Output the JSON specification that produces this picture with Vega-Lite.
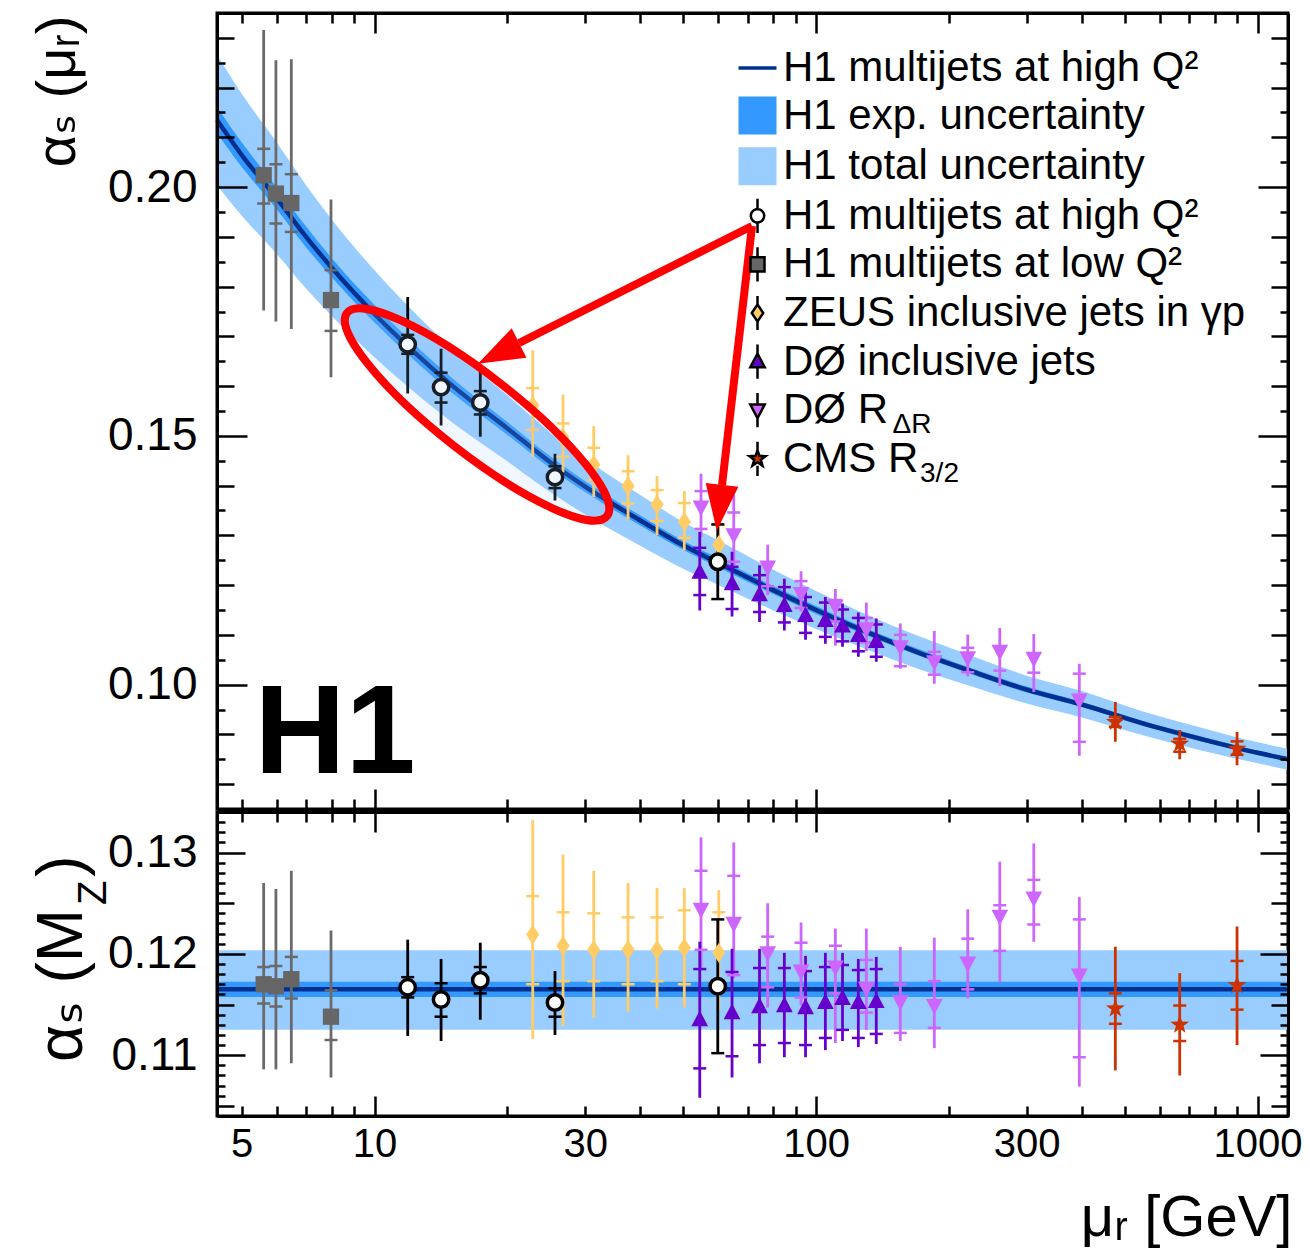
{
"$schema": "https://vega.github.io/schema/vega-lite/v6.json",
"background": "white",
"padding": {"left": 27, "top": 10, "right": 10, "bottom": 8},
"config": {"view": {"stroke": "black", "strokeWidth": 3}, "font": "Liberation Sans"},
"datasets": {
"curve": [
{"x":4.398,"c":0.2135,"elo":0.2109,"ehi":0.2161,"tlo":0.2004,"thi":0.2266},
{"x":5,"c":0.2065,"elo":0.2041,"ehi":0.2090,"tlo":0.1943,"thi":0.2188},
{"x":6,"c":0.1978,"elo":0.1956,"ehi":0.2000,"tlo":0.1866,"thi":0.2090},
{"x":7,"c":0.1900,"elo":0.1879,"ehi":0.1921,"tlo":0.1796,"thi":0.2004},
{"x":8,"c":0.1838,"elo":0.1819,"ehi":0.1857,"tlo":0.1741,"thi":0.1935},
{"x":10,"c":0.1745,"elo":0.1728,"ehi":0.1763,"tlo":0.1658,"thi":0.1833},
{"x":12,"c":0.1677,"elo":0.1661,"ehi":0.1693,"tlo":0.1596,"thi":0.1758},
{"x":15,"c":0.1601,"elo":0.1586,"ehi":0.1616,"tlo":0.1527,"thi":0.1675},
{"x":20,"c":0.1515,"elo":0.1502,"ehi":0.1528,"tlo":0.1449,"thi":0.1581},
{"x":25,"c":0.1447,"elo":0.1435,"ehi":0.1459,"tlo":0.1387,"thi":0.1507},
{"x":30,"c":0.1398,"elo":0.1387,"ehi":0.1409,"tlo":0.1342,"thi":0.1454},
{"x":40,"c":0.1330,"elo":0.1320,"ehi":0.1340,"tlo":0.1279,"thi":0.1381},
{"x":50,"c":0.1280,"elo":0.1271,"ehi":0.1289,"tlo":0.1233,"thi":0.1327},
{"x":60,"c":0.1245,"elo":0.1236,"ehi":0.1254,"tlo":0.1201,"thi":0.1290},
{"x":80,"c":0.1190,"elo":0.1182,"ehi":0.1198,"tlo":0.1149,"thi":0.1231},
{"x":100,"c":0.1150,"elo":0.1142,"ehi":0.1158,"tlo":0.1112,"thi":0.1188},
{"x":130,"c":0.1106,"elo":0.1099,"ehi":0.1113,"tlo":0.1071,"thi":0.1141},
{"x":170,"c":0.1065,"elo":0.1059,"ehi":0.1072,"tlo":0.1032,"thi":0.1098},
{"x":220,"c":0.1030,"elo":0.1024,"ehi":0.1036,"tlo":0.0999,"thi":0.1061},
{"x":300,"c":0.0990,"elo":0.0984,"ehi":0.0996,"tlo":0.0962,"thi":0.1018},
{"x":400,"c":0.0960,"elo":0.0955,"ehi":0.0965,"tlo":0.0934,"thi":0.0987},
{"x":550,"c":0.0922,"elo":0.0917,"ehi":0.0927,"tlo":0.0898,"thi":0.0946},
{"x":750,"c":0.0890,"elo":0.0885,"ehi":0.0895,"tlo":0.0867,"thi":0.0913},
{"x":1000,"c":0.0863,"elo":0.0859,"ehi":0.0867,"tlo":0.0842,"thi":0.0884},
{"x":1172,"c":0.0850,"elo":0.0846,"ehi":0.0854,"tlo":0.0829,"thi":0.0871}
],
"flat": [
{"x":4.398,"c":0.1165,"elo":0.11575,"ehi":0.11725,"tlo":0.1125,"thi":0.12035},
{"x":1172,"c":0.1165,"elo":0.11575,"ehi":0.11725,"tlo":0.1125,"thi":0.12035}
],
"pts": [
{"panel":"t","series":"hl","x":5.61,"y":0.2024,"lo":0.1752,"hi":0.2316,"elo":0.1967,"ehi":0.2077},
{"panel":"t","series":"hl","x":5.98,"y":0.1987,"lo":0.1730,"hi":0.2255,"elo":0.1927,"ehi":0.2046},
{"panel":"t","series":"hl","x":6.48,"y":0.1968,"lo":0.1715,"hi":0.2257,"elo":0.1910,"ehi":0.2026},
{"panel":"t","series":"hl","x":7.97,"y":0.1773,"lo":0.1618,"hi":0.1975,"elo":0.1711,"ehi":0.1833},
{"panel":"t","series":"zeus","x":22.82,"y":0.1561,"lo":0.1458,"hi":0.1672,"elo":0.1512,"ehi":0.1596},
{"panel":"t","series":"zeus","x":26.73,"y":0.1496,"lo":0.1427,"hi":0.1583,"elo":0.1458,"ehi":0.1525},
{"panel":"t","series":"zeus","x":31.37,"y":0.1442,"lo":0.1377,"hi":0.1520,"elo":0.1411,"ehi":0.1476},
{"panel":"t","series":"zeus","x":37.52,"y":0.1399,"lo":0.1332,"hi":0.1461,"elo":0.1364,"ehi":0.1429},
{"panel":"t","series":"zeus","x":43.64,"y":0.1362,"lo":0.1301,"hi":0.1419,"elo":0.1329,"ehi":0.1391},
{"panel":"t","series":"zeus","x":50.31,"y":0.1327,"lo":0.1270,"hi":0.1389,"elo":0.1295,"ehi":0.1365},
{"panel":"t","series":"zeus","x":60.22,"y":0.1281,"lo":0.1225,"hi":0.1343,"elo":0.1251,"ehi":0.1321},
{"panel":"t","series":"d0r","x":54.89,"y":0.1357,"lo":0.1297,"hi":0.1424,"elo":0.1313,"ehi":0.1389},
{"panel":"t","series":"d0r","x":65.11,"y":0.1301,"lo":0.1240,"hi":0.1381,"elo":0.1247,"ehi":0.1346},
{"panel":"t","series":"d0r","x":77.71,"y":0.1236,"lo":0.1180,"hi":0.1281,"elo":0.1198,"ehi":0.1245},
{"panel":"t","series":"d0r","x":92.48,"y":0.1183,"lo":0.1147,"hi":0.1228,"elo":0.1154,"ehi":0.1208},
{"panel":"t","series":"d0r","x":110.6,"y":0.1158,"lo":0.1078,"hi":0.1192,"elo":0.1127,"ehi":0.1170},
{"panel":"t","series":"d0r","x":130.0,"y":0.1112,"lo":0.1067,"hi":0.1165,"elo":0.1085,"ehi":0.1134},
{"panel":"t","series":"d0r","x":155.2,"y":0.1076,"lo":0.1032,"hi":0.1123,"elo":0.1037,"ehi":0.1100},
{"panel":"t","series":"d0r","x":185.3,"y":0.1046,"lo":0.1002,"hi":0.1108,"elo":0.1020,"ehi":0.1066},
{"panel":"t","series":"d0r","x":220.6,"y":0.1054,"lo":0.1017,"hi":0.1101,"elo":0.1025,"ehi":0.1074},
{"panel":"t","series":"d0r","x":260.7,"y":0.1067,"lo":0.0997,"hi":0.1114,"elo":0.1028,"ehi":0.1076},
{"panel":"t","series":"d0r","x":311.3,"y":0.1053,"lo":0.0985,"hi":0.1102,"elo":0.1024,"ehi":0.1062},
{"panel":"t","series":"d0r","x":394.7,"y":0.0969,"lo":0.0857,"hi":0.1042,"elo":0.0885,"ehi":0.1022},
{"panel":"t","series":"d0i","x":54.53,"y":0.1226,"lo":0.1149,"hi":0.1307,"elo":0.1180,"ehi":0.1275},
{"panel":"t","series":"d0i","x":64.53,"y":0.1203,"lo":0.1137,"hi":0.1267,"elo":0.1152,"ehi":0.1237},
{"panel":"t","series":"d0i","x":74.47,"y":0.1181,"lo":0.1126,"hi":0.1240,"elo":0.1146,"ehi":0.1220},
{"panel":"t","series":"d0i","x":84.77,"y":0.1159,"lo":0.1109,"hi":0.1213,"elo":0.1125,"ehi":0.1196},
{"panel":"t","series":"d0i","x":94.67,"y":0.1139,"lo":0.1090,"hi":0.1193,"elo":0.1104,"ehi":0.1176},
{"panel":"t","series":"d0i","x":104.98,"y":0.1129,"lo":0.1082,"hi":0.1176,"elo":0.1096,"ehi":0.1165},
{"panel":"t","series":"d0i","x":114.8,"y":0.1118,"lo":0.1076,"hi":0.1163,"elo":0.1087,"ehi":0.1151},
{"panel":"t","series":"d0i","x":124.68,"y":0.1099,"lo":0.1056,"hi":0.1145,"elo":0.1067,"ehi":0.1134},
{"panel":"t","series":"d0i","x":136.9,"y":0.1087,"lo":0.1046,"hi":0.1133,"elo":0.1056,"ehi":0.1121},
{"panel":"t","series":"cms","x":476.3,"y":0.0925,"lo":0.0885,"hi":0.0965,"elo":0.0915,"ehi":0.0935},
{"panel":"t","series":"cms","x":666.3,"y":0.0881,"lo":0.0850,"hi":0.0909,"elo":0.0865,"ehi":0.0891},
{"panel":"t","series":"cms","x":898.5,"y":0.0871,"lo":0.0838,"hi":0.0905,"elo":0.0859,"ehi":0.0886},
{"panel":"t","series":"hh","x":11.89,"y":0.1684,"lo":0.1585,"hi":0.1779,"elo":0.1665,"ehi":0.1703},
{"panel":"t","series":"hh","x":14.15,"y":0.1598,"lo":0.1521,"hi":0.1675,"elo":0.1567,"ehi":0.1627},
{"panel":"t","series":"hh","x":17.36,"y":0.1567,"lo":0.1498,"hi":0.1632,"elo":0.1543,"ehi":0.1590},
{"panel":"t","series":"hh","x":25.63,"y":0.1417,"lo":0.1370,"hi":0.1464,"elo":0.1395,"ehi":0.1439},
{"panel":"t","series":"hh","x":59.9,"y":0.1247,"lo":0.1172,"hi":0.1322,"elo":0.1172,"ehi":0.1322},
{"panel":"b","series":"hl","x":5.61,"y":0.1170,"lo":0.1086,"hi":0.1270,"elo":0.1151,"ehi":0.1187},
{"panel":"b","series":"hl","x":5.98,"y":0.1168,"lo":0.1086,"hi":0.1264,"elo":0.1148,"ehi":0.1188},
{"panel":"b","series":"hl","x":6.48,"y":0.1175,"lo":0.1092,"hi":0.1282,"elo":0.1156,"ehi":0.1197},
{"panel":"b","series":"hl","x":7.97,"y":0.1138,"lo":0.1078,"hi":0.1223,"elo":0.1115,"ehi":0.1164},
{"panel":"b","series":"zeus","x":22.82,"y":0.1219,"lo":0.1116,"hi":0.1332,"elo":0.1170,"ehi":0.1257},
{"panel":"b","series":"zeus","x":26.73,"y":0.1208,"lo":0.1129,"hi":0.1298,"elo":0.1173,"ehi":0.1241},
{"panel":"b","series":"zeus","x":31.37,"y":0.1204,"lo":0.1137,"hi":0.1282,"elo":0.1173,"ehi":0.1240},
{"panel":"b","series":"zeus","x":37.52,"y":0.1204,"lo":0.1143,"hi":0.1270,"elo":0.1170,"ehi":0.1236},
{"panel":"b","series":"zeus","x":43.64,"y":0.1204,"lo":0.1146,"hi":0.1265,"elo":0.1173,"ehi":0.1236},
{"panel":"b","series":"zeus","x":50.31,"y":0.1206,"lo":0.1147,"hi":0.1265,"elo":0.1170,"ehi":0.1243},
{"panel":"b","series":"zeus","x":60.22,"y":0.1201,"lo":0.1145,"hi":0.1263,"elo":0.1170,"ehi":0.1241},
{"panel":"b","series":"d0r","x":54.89,"y":0.1244,"lo":0.1186,"hi":0.1315,"elo":0.1204,"ehi":0.1282},
{"panel":"b","series":"d0r","x":65.11,"y":0.1230,"lo":0.1176,"hi":0.1310,"elo":0.1179,"ehi":0.1277},
{"panel":"b","series":"d0r","x":77.71,"y":0.1201,"lo":0.1147,"hi":0.1250,"elo":0.1167,"ehi":0.1217},
{"panel":"b","series":"d0r","x":92.48,"y":0.1183,"lo":0.1149,"hi":0.1231,"elo":0.1157,"ehi":0.1211},
{"panel":"b","series":"d0r","x":110.6,"y":0.1187,"lo":0.1112,"hi":0.1225,"elo":0.1161,"ehi":0.1208},
{"panel":"b","series":"d0r","x":130.0,"y":0.1166,"lo":0.1125,"hi":0.1225,"elo":0.1142,"ehi":0.1194},
{"panel":"b","series":"d0r","x":155.2,"y":0.1153,"lo":0.1114,"hi":0.1207,"elo":0.1122,"ehi":0.1170},
{"panel":"b","series":"d0r","x":185.3,"y":0.1149,"lo":0.1107,"hi":0.1216,"elo":0.1127,"ehi":0.1173},
{"panel":"b","series":"d0r","x":220.6,"y":0.1191,"lo":0.1156,"hi":0.1244,"elo":0.1165,"ehi":0.1215},
{"panel":"b","series":"d0r","x":260.7,"y":0.1237,"lo":0.1172,"hi":0.1291,"elo":0.1203,"ehi":0.1248},
{"panel":"b","series":"d0r","x":311.3,"y":0.1255,"lo":0.1212,"hi":0.1309,"elo":0.1229,"ehi":0.1273},
{"panel":"b","series":"d0r","x":394.7,"y":0.1179,"lo":0.1069,"hi":0.1256,"elo":0.1098,"ehi":0.1234},
{"panel":"b","series":"d0i","x":54.53,"y":0.1135,"lo":0.1058,"hi":0.1212,"elo":0.1087,"ehi":0.1185},
{"panel":"b","series":"d0i","x":64.53,"y":0.1142,"lo":0.1078,"hi":0.1205,"elo":0.1099,"ehi":0.1182},
{"panel":"b","series":"d0i","x":74.47,"y":0.1148,"lo":0.1092,"hi":0.1205,"elo":0.1110,"ehi":0.1186},
{"panel":"b","series":"d0i","x":84.77,"y":0.1149,"lo":0.1098,"hi":0.1201,"elo":0.1112,"ehi":0.1186},
{"panel":"b","series":"d0i","x":94.67,"y":0.1147,"lo":0.1098,"hi":0.1198,"elo":0.1110,"ehi":0.1183},
{"panel":"b","series":"d0i","x":104.98,"y":0.1152,"lo":0.1105,"hi":0.1201,"elo":0.1117,"ehi":0.1187},
{"panel":"b","series":"d0i","x":114.8,"y":0.1156,"lo":0.1114,"hi":0.1201,"elo":0.1125,"ehi":0.1189},
{"panel":"b","series":"d0i","x":124.68,"y":0.1152,"lo":0.1108,"hi":0.1195,"elo":0.1117,"ehi":0.1184},
{"panel":"b","series":"d0i","x":136.9,"y":0.1153,"lo":0.1111,"hi":0.1197,"elo":0.1121,"ehi":0.1185},
{"panel":"b","series":"cms","x":476.3,"y":0.1146,"lo":0.1085,"hi":0.1207,"elo":0.1131,"ehi":0.1161},
{"panel":"b","series":"cms","x":666.3,"y":0.1130,"lo":0.1080,"hi":0.1181,"elo":0.1114,"ehi":0.1149},
{"panel":"b","series":"cms","x":898.5,"y":0.1169,"lo":0.1110,"hi":0.1227,"elo":0.1145,"ehi":0.1193},
{"panel":"b","series":"hh","x":11.89,"y":0.1167,"lo":0.1119,"hi":0.1214,"elo":0.1157,"ehi":0.1177},
{"panel":"b","series":"hh","x":14.15,"y":0.1155,"lo":0.1114,"hi":0.1195,"elo":0.1138,"ehi":0.1171},
{"panel":"b","series":"hh","x":17.36,"y":0.1174,"lo":0.1135,"hi":0.1211,"elo":0.1161,"ehi":0.1187},
{"panel":"b","series":"hh","x":25.63,"y":0.1152,"lo":0.1120,"hi":0.1183,"elo":0.1138,"ehi":0.1166},
{"panel":"b","series":"hh","x":59.9,"y":0.1168,"lo":0.1102,"hi":0.1234,"elo":0.1102,"ehi":0.1234}
]
},
"spacing": -14,
"resolve": {"scale": {"x": "independent", "y": "independent", "fill": "independent", "shape": "independent", "color": "independent", "strokeDash": "independent"}, "legend": {"fill": "independent", "shape": "independent", "color": "independent", "strokeDash": "independent"}},
"vconcat": [
{
"width": 1071, "height": 796,
"resolve": {"axis": {"x": "independent", "y": "independent"}},
"layer": [
{"data": {"name": "curve"}, "mark": {"type": "area", "color": "#99ccff", "opacity": 1, "interpolate": "monotone"},
 "encoding": {"x": {"field": "x", "type": "quantitative", "scale": {"type": "log", "domain": [4.398, 1172], "nice": false}, "axis": null},
  "y": {"field": "tlo", "type": "quantitative", "scale": {"domain": [0.075, 0.235], "nice": false, "zero": false}, "axis": null}, "y2": {"field": "thi"}}},
{"data": {"name": "curve"}, "mark": {"type": "area", "color": "#3399ff", "opacity": 1, "interpolate": "monotone"},
 "encoding": {"x": {"field": "x", "type": "quantitative", "scale": {"type": "log", "domain": [4.398, 1172], "nice": false}, "axis": null},
  "y": {"field": "elo", "type": "quantitative", "scale": {"domain": [0.075, 0.235], "nice": false, "zero": false}, "axis": null}, "y2": {"field": "ehi"}}},
{"data": {"name": "curve"}, "mark": {"type": "line", "color": "#00308f", "strokeWidth": 4.5, "interpolate": "monotone"},
 "encoding": {"x": {"field": "x", "type": "quantitative", "scale": {"type": "log", "domain": [4.398, 1172], "nice": false}, "axis": null},
  "y": {"field": "c", "type": "quantitative", "scale": {"domain": [0.075, 0.235], "nice": false, "zero": false}, "axis": null}}},
{"data": {"name": "pts"}, "transform": [{"filter": "datum.panel === 't'"}], "mark": {"type": "rule", "strokeWidth": 2.8},
 "encoding": {"x": {"field": "x", "type": "quantitative", "scale": {"type": "log", "domain": [4.398, 1172], "nice": false}, "axis": null},
  "y": {"field": "lo", "type": "quantitative", "scale": {"domain": [0.075, 0.235], "nice": false, "zero": false}, "axis": null}, "y2": {"field": "hi"},
  "color": {"field": "series", "type": "nominal", "scale": {"domain": ["line","exp","tot","hh","hl","zeus","d0i","d0r","cms"], "range": ["#00308f","#3399ff","#99ccff","black","#6a6a6a","#ffcc66","#6600cc","#cc66ff","#cc3300"]}, "legend": null},
  "strokeDash": {"field": "series", "type": "nominal", "scale": {"range": [[1,0],[1,0],[1,0],[1,0],[1,0],[1,0],[1,0],[1,0],[1,0]]},
   "legend": {"orient": "none", "legendX": 519.5, "legendY": 34, "title": null, "padding": 0, "symbolSize": 1444, "symbolStrokeWidth": 2.5,
    "symbolType": "M0,-0.9V-0.36M0,0.36V0.9", "symbolStrokeColor": "black", "symbolFillColor": "transparent",
    "labelFontSize": 42, "labelFont": "Liberation Sans", "labelLimit": 1000, "labelOffset": 4.5, "rowPadding": 2.6,
    "values": ["line","exp","tot","hh","hl","zeus","d0i","d0r","cms"],
    "labelExpr": "datum.value==='line'?'H1 multijets at high Q²':datum.value==='exp'?'H1 exp. uncertainty':datum.value==='tot'?'H1 total uncertainty':datum.value==='hh'?'H1 multijets at high Q²':datum.value==='hl'?'H1 multijets at low Q²':datum.value==='zeus'?'ZEUS inclusive jets in γp':datum.value==='d0i'?'DØ inclusive jets':datum.value==='d0r'?'DØ R':'CMS R'",
    "encode": {"symbols": {"update": {
      "shape": {"signal": "datum.value==='line'?'M-1,-0.09H1V0.09H-1Z':(datum.value==='exp'||datum.value==='tot')?'M-1,-1H1V1H-1Z':datum.value==='hh'?'M-0.35,0C-0.35,-0.193 -0.193,-0.35 0,-0.35C0.193,-0.35 0.35,-0.193 0.35,0C0.35,0.193 0.193,0.35 0,0.35C-0.193,0.35 -0.35,0.193 -0.35,0ZM0,-0.9V-0.35M0,0.35V0.9':datum.value==='hl'?'M-0.37,-0.37H0.37V0.37H-0.37ZM0,-0.9V-0.37M0,0.37V0.9':datum.value==='zeus'?'M0,-0.45L0.3,0L0,0.45L-0.3,0ZM0,-0.9V-0.45M0,0.45V0.9':datum.value==='d0i'?'M0,-0.42L0.38,0.3L-0.38,0.3ZM0,-0.9V-0.42M0,0.3V0.9':datum.value==='d0r'?'M0,0.42L0.38,-0.3L-0.38,-0.3ZM0,-0.9V-0.3M0,0.42V0.9':'M0,-0.45L0.106,-0.146L0.428,-0.139L0.171,0.056L0.265,0.364L0,0.18L-0.265,0.364L-0.171,0.056L-0.428,-0.139L-0.106,-0.146ZM0,-0.9V-0.45M0,0.364V0.9'"},
      "fill": {"signal": "datum.value==='line'?'#00308f':datum.value==='exp'?'#3399ff':datum.value==='tot'?'#99ccff':datum.value==='hh'?'white':datum.value==='hl'?'#666666':datum.value==='zeus'?'#ffcc66':datum.value==='d0i'?'#6600cc':datum.value==='d0r'?'#cc66ff':'#cc3300'"},
      "stroke": {"signal": "indexof(['hh','hl','zeus','d0i','d0r','cms'], datum.value) >= 0 ? 'black' : 'transparent'"},
      "strokeWidth": {"value": 2.5}, "opacity": {"value": 1}, "fillOpacity": {"value": 1}}}}}}}},
{"data": {"name": "pts"}, "transform": [{"filter": "datum.panel === 't'"}], "mark": {"type": "tick", "orient": "horizontal", "size": 13, "thickness": 2.5, "opacity": 1},
 "encoding": {"x": {"field": "x", "type": "quantitative", "scale": {"type": "log", "domain": [4.398, 1172], "nice": false}, "axis": null},
  "y": {"field": "elo", "type": "quantitative", "scale": {"domain": [0.075, 0.235], "nice": false, "zero": false}, "axis": null},
  "color": {"field": "series", "type": "nominal", "scale": {"domain": ["line","exp","tot","hh","hl","zeus","d0i","d0r","cms"], "range": ["#00308f","#3399ff","#99ccff","black","#6a6a6a","#ffcc66","#6600cc","#cc66ff","#cc3300"]}, "legend": null}}},
{"data": {"name": "pts"}, "transform": [{"filter": "datum.panel === 't'"}], "mark": {"type": "tick", "orient": "horizontal", "size": 13, "thickness": 2.5, "opacity": 1},
 "encoding": {"x": {"field": "x", "type": "quantitative", "scale": {"type": "log", "domain": [4.398, 1172], "nice": false}, "axis": null},
  "y": {"field": "ehi", "type": "quantitative", "scale": {"domain": [0.075, 0.235], "nice": false, "zero": false}, "axis": null},
  "color": {"field": "series", "type": "nominal", "scale": {"domain": ["line","exp","tot","hh","hl","zeus","d0i","d0r","cms"], "range": ["#00308f","#3399ff","#99ccff","black","#6a6a6a","#ffcc66","#6600cc","#cc66ff","#cc3300"]}, "legend": null}}},
{"data": {"name": "pts"}, "transform": [{"filter": "datum.panel === 't'"}], "mark": {"type": "point", "filled": true, "size": 1936, "opacity": 1},
 "encoding": {"x": {"field": "x", "type": "quantitative", "scale": {"type": "log", "domain": [4.398, 1172], "nice": false}, "axis": null},
  "y": {"field": "y", "type": "quantitative", "scale": {"domain": [0.075, 0.235], "nice": false, "zero": false}, "axis": null},
  "fill": {"field": "series", "type": "nominal", "scale": {"domain": ["line","exp","tot","hh","hl","zeus","d0i","d0r","cms"], "range": ["#00308f","#3399ff","#99ccff","white","#666666","#ffcc66","#6600cc","#cc66ff","#cc3300"]}, "legend": null},
  "shape": {"field": "series", "type": "nominal", "scale": {"domain": ["line","exp","tot","hh","hl","zeus","d0i","d0r","cms"],
   "range": ["M-1,-0.09H1V0.09H-1Z", "M-1,-1H1V1H-1Z", "M-1,-1H1V1H-1Z",
    "M-0.35,0C-0.35,-0.193 -0.193,-0.35 0,-0.35C0.193,-0.35 0.35,-0.193 0.35,0C0.35,0.193 0.193,0.35 0,0.35C-0.193,0.35 -0.35,0.193 -0.35,0Z",
    "M-0.37,-0.37H0.37V0.37H-0.37Z", "M0,-0.45L0.3,0L0,0.45L-0.3,0Z", "M0,-0.42L0.38,0.3L-0.38,0.3Z", "M0,0.42L0.38,-0.3L-0.38,-0.3Z",
    "M0,-0.45L0.106,-0.146L0.428,-0.139L0.171,0.056L0.265,0.364L0,0.18L-0.265,0.364L-0.171,0.056L-0.428,-0.139L-0.106,-0.146Z"]}, "legend": null}}},
{"data": {"name": "pts"}, "transform": [{"filter": "datum.panel === 't' && datum.series === 'hh'"}], "mark": {"type": "point", "filled": false, "size": 1936, "opacity": 1, "strokeWidth": 3.5, "color": "black",
  "shape": "M-0.35,0C-0.35,-0.193 -0.193,-0.35 0,-0.35C0.193,-0.35 0.35,-0.193 0.35,0C0.35,0.193 0.193,0.35 0,0.35C-0.193,0.35 -0.35,0.193 -0.35,0Z"},
 "encoding": {"x": {"field": "x", "type": "quantitative", "scale": {"type": "log", "domain": [4.398, 1172], "nice": false}, "axis": null},
  "y": {"field": "y", "type": "quantitative", "scale": {"domain": [0.075, 0.235], "nice": false, "zero": false}, "axis": null}}},
{"data": {"values": [{}]}, "mark": {"type": "text", "text": "H1", "font": "Liberation Sans", "fontSize": 126, "fontWeight": "bold", "align": "left", "baseline": "alphabetic", "color": "black"},
 "encoding": {"x": {"datum": 5.35, "type": "quantitative", "scale": {"type": "log", "domain": [4.398, 1172], "nice": false}, "axis": null},
  "y": {"datum": 0.0823, "type": "quantitative", "scale": {"domain": [0.075, 0.235], "nice": false, "zero": false}, "axis": null}}},
{"data": {"values": [{}]}, "mark": {"type": "point", "shape": "M-1,0C-1,-0.1303 -0.5523,-0.236 0,-0.236C0.5523,-0.236 1,-0.1303 1,0C1,0.1303 0.5523,0.236 0,0.236C-0.5523,0.236 -1,0.1303 -1,0Z", "size": 108900, "angle": 38, "filled": true, "fill": "#99ccff", "fillOpacity": 0.15, "stroke": "#ff0000", "strokeWidth": 8, "opacity": 1},
 "encoding": {"x": {"datum": 17.07, "type": "quantitative", "scale": {"type": "log", "domain": [4.398, 1172], "nice": false}, "axis": null},
  "y": {"datum": 0.1543, "type": "quantitative", "scale": {"domain": [0.075, 0.235], "nice": false, "zero": false}, "axis": null}}},
{"data": {"values": [{}]}, "mark": {"type": "rule", "color": "#ff0000", "strokeWidth": 8},
 "encoding": {"x": {"datum": 71.62, "type": "quantitative", "scale": {"type": "log", "domain": [4.398, 1172], "nice": false}, "axis": null},
  "y": {"datum": 0.19219, "type": "quantitative", "scale": {"domain": [0.075, 0.235], "nice": false, "zero": false}, "axis": null},
  "x2": {"datum": 21.25}, "y2": {"datum": 0.16867}}},
{"data": {"values": [{}]}, "mark": {"type": "rule", "color": "#ff0000", "strokeWidth": 8},
 "encoding": {"x": {"datum": 71.62, "type": "quantitative", "scale": {"type": "log", "domain": [4.398, 1172], "nice": false}, "axis": null},
  "y": {"datum": 0.19219, "type": "quantitative", "scale": {"domain": [0.075, 0.235], "nice": false, "zero": false}, "axis": null},
  "x2": {"datum": 61.25}, "y2": {"datum": 0.14013}}},
{"data": {"values": [{}]}, "mark": {"type": "point", "shape": "M0,-1.4L0.5,0L-0.5,0Z", "size": 4330, "angle": 243.3, "filled": true, "color": "#ff0000", "opacity": 1},
 "encoding": {"x": {"datum": 21.25, "type": "quantitative", "scale": {"type": "log", "domain": [4.398, 1172], "nice": false}, "axis": null},
  "y": {"datum": 0.16867, "type": "quantitative", "scale": {"domain": [0.075, 0.235], "nice": false, "zero": false}, "axis": null}}},
{"data": {"values": [{}]}, "mark": {"type": "point", "shape": "M0,-1.4L0.5,0L-0.5,0Z", "size": 4330, "angle": 186.6, "filled": true, "color": "#ff0000", "opacity": 1},
 "encoding": {"x": {"datum": 61.25, "type": "quantitative", "scale": {"type": "log", "domain": [4.398, 1172], "nice": false}, "axis": null},
  "y": {"datum": 0.14013, "type": "quantitative", "scale": {"domain": [0.075, 0.235], "nice": false, "zero": false}, "axis": null}}},
{"data": {"values": [{}]}, "mark": {"type": "text", "text": "ΔR", "font": "Liberation Sans", "fontSize": 28, "align": "left", "baseline": "alphabetic", "color": "black"},
 "encoding": {"x": {"datum": 149.0, "type": "quantitative", "scale": {"type": "log", "domain": [4.398, 1172], "nice": false}, "axis": null},
  "y": {"datum": 0.15058, "type": "quantitative", "scale": {"domain": [0.075, 0.235], "nice": false, "zero": false}, "axis": null}}},
{"data": {"values": [{}]}, "mark": {"type": "text", "text": "3/2", "font": "Liberation Sans", "fontSize": 28, "align": "left", "baseline": "alphabetic", "color": "black"},
 "encoding": {"x": {"datum": 172.0, "type": "quantitative", "scale": {"type": "log", "domain": [4.398, 1172], "nice": false}, "axis": null},
  "y": {"datum": 0.14073, "type": "quantitative", "scale": {"domain": [0.075, 0.235], "nice": false, "zero": false}, "axis": null}}},
{"mark": {"type": "point", "opacity": 0},
 "encoding": {"x": {"datum": 10, "type": "quantitative", "scale": {"type": "log", "domain": [4.398, 1172], "nice": false},
   "axis": {"orient": "bottom", "values": [10, 100, 1000], "tickSize": -20, "tickWidth": 2.5, "tickColor": "black", "labels": false, "domain": true, "domainColor": "black", "domainWidth": 3, "grid": false, "title": null, "zindex": 1}},
  "y": {"datum": 0.1, "type": "quantitative", "scale": {"domain": [0.075, 0.235], "nice": false, "zero": false},
   "axis": {"orient": "left", "values": [0.1, 0.15, 0.2], "format": ".2f", "ticks": false, "domain": false, "grid": false, "labelFontSize": 46, "labelPadding": 20, "labelColor": "black", "labelFont": "Liberation Sans", "labelOverlap": false, "labelFlush": false,
    "title": "αₛ (μᵣ)", "titleFontSize": 56, "titleFont": "Liberation Sans, DejaVu Sans", "titleFontWeight": "normal", "titleColor": "black", "titleAngle": 270, "titleAlign": "right", "titleBaseline": "alphabetic", "titleX": -143, "titleY": 2}}}},
{"mark": {"type": "point", "opacity": 0},
 "encoding": {"x": {"datum": 10, "type": "quantitative", "scale": {"type": "log", "domain": [4.398, 1172], "nice": false},
   "axis": {"orient": "bottom", "values": [5,6,7,8,9,20,30,40,50,60,70,80,90,200,300,400,500,600,700,800,900], "tickSize": -10, "tickWidth": 2.5, "tickColor": "black", "labels": false, "domain": false, "grid": false, "title": null, "zindex": 1}},
  "y": {"datum": 0.1, "type": "quantitative", "scale": {"domain": [0.075, 0.235], "nice": false, "zero": false},
   "axis": {"orient": "left", "values": [0.1, 0.15, 0.2], "tickSize": -30, "tickWidth": 2.5, "tickColor": "black", "labels": false, "domain": true, "domainColor": "black", "domainWidth": 3, "grid": false, "title": null, "zindex": 1}}}},
{"mark": {"type": "point", "opacity": 0},
 "encoding": {"x": {"datum": 10, "type": "quantitative", "scale": {"type": "log", "domain": [4.398, 1172], "nice": false},
   "axis": {"orient": "top", "values": [10, 100, 1000], "tickSize": -20, "tickWidth": 2.5, "tickColor": "black", "labels": false, "domain": true, "domainColor": "black", "domainWidth": 3, "grid": false, "title": null, "zindex": 1}},
  "y": {"datum": 0.1, "type": "quantitative", "scale": {"domain": [0.075, 0.235], "nice": false, "zero": false},
   "axis": {"orient": "left", "values": [0.08,0.09,0.11,0.12,0.13,0.14,0.16,0.17,0.18,0.19,0.21,0.22,0.23], "tickSize": -17, "tickWidth": 2.5, "tickColor": "black", "labels": false, "domain": false, "grid": false, "title": null, "zindex": 1}}}},
{"mark": {"type": "point", "opacity": 0},
 "encoding": {"x": {"datum": 10, "type": "quantitative", "scale": {"type": "log", "domain": [4.398, 1172], "nice": false},
   "axis": {"orient": "top", "values": [5,6,7,8,9,20,30,40,50,60,70,80,90,200,300,400,500,600,700,800,900], "tickSize": -10, "tickWidth": 2.5, "tickColor": "black", "labels": false, "domain": false, "grid": false, "title": null, "zindex": 1}},
  "y": {"datum": 0.1, "type": "quantitative", "scale": {"domain": [0.075, 0.235], "nice": false, "zero": false},
   "axis": {"orient": "left", "values": [0.085,0.095,0.105,0.115,0.125,0.135,0.145,0.155,0.165,0.175,0.185,0.195,0.205,0.215,0.225], "tickSize": -8, "tickWidth": 2.5, "tickColor": "black", "labels": false, "domain": false, "grid": false, "title": null, "zindex": 1}}}},
{"mark": {"type": "point", "opacity": 0},
 "encoding": {"x": {"datum": 10, "type": "quantitative", "scale": {"type": "log", "domain": [4.398, 1172], "nice": false}, "axis": null},
  "y": {"datum": 0.1, "type": "quantitative", "scale": {"domain": [0.075, 0.235], "nice": false, "zero": false},
   "axis": {"orient": "right", "values": [0.1, 0.15, 0.2], "tickSize": -30, "tickWidth": 2.5, "tickColor": "black", "labels": false, "domain": true, "domainColor": "black", "domainWidth": 3, "grid": false, "title": null, "zindex": 1}}}},
{"mark": {"type": "point", "opacity": 0},
 "encoding": {"x": {"datum": 10, "type": "quantitative", "scale": {"type": "log", "domain": [4.398, 1172], "nice": false}, "axis": null},
  "y": {"datum": 0.1, "type": "quantitative", "scale": {"domain": [0.075, 0.235], "nice": false, "zero": false},
   "axis": {"orient": "right", "values": [0.08,0.09,0.11,0.12,0.13,0.14,0.16,0.17,0.18,0.19,0.21,0.22,0.23], "tickSize": -17, "tickWidth": 2.5, "tickColor": "black", "labels": false, "domain": false, "grid": false, "title": null, "zindex": 1}}}},
{"mark": {"type": "point", "opacity": 0},
 "encoding": {"x": {"datum": 10, "type": "quantitative", "scale": {"type": "log", "domain": [4.398, 1172], "nice": false}, "axis": null},
  "y": {"datum": 0.1, "type": "quantitative", "scale": {"domain": [0.075, 0.235], "nice": false, "zero": false},
   "axis": {"orient": "right", "values": [0.085,0.095,0.105,0.115,0.125,0.135,0.145,0.155,0.165,0.175,0.185,0.195,0.205,0.215,0.225], "tickSize": -8, "tickWidth": 2.5, "tickColor": "black", "labels": false, "domain": false, "grid": false, "title": null, "zindex": 1}}}}
]
},
{
"width": 1071, "height": 304,
"resolve": {"axis": {"x": "independent", "y": "independent"}},
"layer": [
{"data": {"name": "flat"}, "mark": {"type": "area", "color": "#99ccff", "opacity": 1},
 "encoding": {"x": {"field": "x", "type": "quantitative", "scale": {"type": "log", "domain": [4.398, 1172], "nice": false}, "axis": null},
  "y": {"field": "tlo", "type": "quantitative", "scale": {"domain": [0.104, 0.134], "nice": false, "zero": false}, "axis": null}, "y2": {"field": "thi"}}},
{"data": {"name": "flat"}, "mark": {"type": "area", "color": "#3399ff", "opacity": 1},
 "encoding": {"x": {"field": "x", "type": "quantitative", "scale": {"type": "log", "domain": [4.398, 1172], "nice": false}, "axis": null},
  "y": {"field": "elo", "type": "quantitative", "scale": {"domain": [0.104, 0.134], "nice": false, "zero": false}, "axis": null}, "y2": {"field": "ehi"}}},
{"data": {"name": "flat"}, "mark": {"type": "line", "color": "#00308f", "strokeWidth": 4.5},
 "encoding": {"x": {"field": "x", "type": "quantitative", "scale": {"type": "log", "domain": [4.398, 1172], "nice": false}, "axis": null},
  "y": {"field": "c", "type": "quantitative", "scale": {"domain": [0.104, 0.134], "nice": false, "zero": false}, "axis": null}}},
{"data": {"name": "pts"}, "transform": [{"filter": "datum.panel === 'b'"}], "mark": {"type": "rule", "strokeWidth": 2.8},
 "encoding": {"x": {"field": "x", "type": "quantitative", "scale": {"type": "log", "domain": [4.398, 1172], "nice": false}, "axis": null},
  "y": {"field": "lo", "type": "quantitative", "scale": {"domain": [0.104, 0.134], "nice": false, "zero": false}, "axis": null}, "y2": {"field": "hi"},
  "color": {"field": "series", "type": "nominal", "scale": {"domain": ["line","exp","tot","hh","hl","zeus","d0i","d0r","cms"], "range": ["#00308f","#3399ff","#99ccff","black","#6a6a6a","#ffcc66","#6600cc","#cc66ff","#cc3300"]}, "legend": null}}},
{"data": {"name": "pts"}, "transform": [{"filter": "datum.panel === 'b'"}], "mark": {"type": "tick", "orient": "horizontal", "size": 13, "thickness": 2.5, "opacity": 1},
 "encoding": {"x": {"field": "x", "type": "quantitative", "scale": {"type": "log", "domain": [4.398, 1172], "nice": false}, "axis": null},
  "y": {"field": "elo", "type": "quantitative", "scale": {"domain": [0.104, 0.134], "nice": false, "zero": false}, "axis": null},
  "color": {"field": "series", "type": "nominal", "scale": {"domain": ["line","exp","tot","hh","hl","zeus","d0i","d0r","cms"], "range": ["#00308f","#3399ff","#99ccff","black","#6a6a6a","#ffcc66","#6600cc","#cc66ff","#cc3300"]}, "legend": null}}},
{"data": {"name": "pts"}, "transform": [{"filter": "datum.panel === 'b'"}], "mark": {"type": "tick", "orient": "horizontal", "size": 13, "thickness": 2.5, "opacity": 1},
 "encoding": {"x": {"field": "x", "type": "quantitative", "scale": {"type": "log", "domain": [4.398, 1172], "nice": false}, "axis": null},
  "y": {"field": "ehi", "type": "quantitative", "scale": {"domain": [0.104, 0.134], "nice": false, "zero": false}, "axis": null},
  "color": {"field": "series", "type": "nominal", "scale": {"domain": ["line","exp","tot","hh","hl","zeus","d0i","d0r","cms"], "range": ["#00308f","#3399ff","#99ccff","black","#6a6a6a","#ffcc66","#6600cc","#cc66ff","#cc3300"]}, "legend": null}}},
{"data": {"name": "pts"}, "transform": [{"filter": "datum.panel === 'b'"}], "mark": {"type": "point", "filled": true, "size": 1936, "opacity": 1},
 "encoding": {"x": {"field": "x", "type": "quantitative", "scale": {"type": "log", "domain": [4.398, 1172], "nice": false}, "axis": null},
  "y": {"field": "y", "type": "quantitative", "scale": {"domain": [0.104, 0.134], "nice": false, "zero": false}, "axis": null},
  "fill": {"field": "series", "type": "nominal", "scale": {"domain": ["line","exp","tot","hh","hl","zeus","d0i","d0r","cms"], "range": ["#00308f","#3399ff","#99ccff","white","#666666","#ffcc66","#6600cc","#cc66ff","#cc3300"]}, "legend": null},
  "shape": {"field": "series", "type": "nominal", "scale": {"domain": ["line","exp","tot","hh","hl","zeus","d0i","d0r","cms"],
   "range": ["M-1,-0.09H1V0.09H-1Z", "M-1,-1H1V1H-1Z", "M-1,-1H1V1H-1Z",
    "M-0.35,0C-0.35,-0.193 -0.193,-0.35 0,-0.35C0.193,-0.35 0.35,-0.193 0.35,0C0.35,0.193 0.193,0.35 0,0.35C-0.193,0.35 -0.35,0.193 -0.35,0Z",
    "M-0.37,-0.37H0.37V0.37H-0.37Z", "M0,-0.45L0.3,0L0,0.45L-0.3,0Z", "M0,-0.42L0.38,0.3L-0.38,0.3Z", "M0,0.42L0.38,-0.3L-0.38,-0.3Z",
    "M0,-0.45L0.106,-0.146L0.428,-0.139L0.171,0.056L0.265,0.364L0,0.18L-0.265,0.364L-0.171,0.056L-0.428,-0.139L-0.106,-0.146Z"]}, "legend": null}}},
{"data": {"name": "pts"}, "transform": [{"filter": "datum.panel === 'b' && datum.series === 'hh'"}], "mark": {"type": "point", "filled": false, "size": 1936, "opacity": 1, "strokeWidth": 3.5, "color": "black",
  "shape": "M-0.35,0C-0.35,-0.193 -0.193,-0.35 0,-0.35C0.193,-0.35 0.35,-0.193 0.35,0C0.35,0.193 0.193,0.35 0,0.35C-0.193,0.35 -0.35,0.193 -0.35,0Z"},
 "encoding": {"x": {"field": "x", "type": "quantitative", "scale": {"type": "log", "domain": [4.398, 1172], "nice": false}, "axis": null},
  "y": {"field": "y", "type": "quantitative", "scale": {"domain": [0.104, 0.134], "nice": false, "zero": false}, "axis": null}}},
{"mark": {"type": "point", "opacity": 0},
 "encoding": {"x": {"datum": 10, "type": "quantitative", "scale": {"type": "log", "domain": [4.398, 1172], "nice": false},
   "axis": {"orient": "bottom", "values": [5, 10, 30, 100, 300, 1000], "format": "d", "ticks": false, "domain": false, "grid": false, "labelFontSize": 40, "labelPadding": 8, "labelColor": "black", "labelFont": "Liberation Sans", "labelOverlap": false, "labelFlush": false,
    "title": "μᵣ [GeV]", "titleFontSize": 58, "titleFont": "Liberation Sans, DejaVu Sans", "titleFontWeight": "normal", "titleColor": "black", "titleAlign": "right", "titleAnchor": "end", "titleBaseline": "alphabetic", "titleX": 1075, "titleY": 119}},
  "y": {"datum": 0.12, "type": "quantitative", "scale": {"domain": [0.104, 0.134], "nice": false, "zero": false},
   "axis": {"orient": "left", "values": [0.11, 0.12, 0.13], "format": ".2f", "ticks": false, "domain": false, "grid": false, "labelFontSize": 46, "labelPadding": 20, "labelColor": "black", "labelFont": "Liberation Sans", "labelOverlap": false, "labelFlush": false,
    "title": "αₛ (M\u2002)", "titleFontSize": 64, "titleFont": "Liberation Sans, DejaVu Sans", "titleFontWeight": "normal", "titleColor": "black", "titleAngle": 270, "titleAlign": "right", "titleBaseline": "alphabetic", "titleX": -136, "titleY": 43}}}},
{"mark": {"type": "point", "opacity": 0},
 "encoding": {"x": {"datum": 10, "type": "quantitative", "scale": {"type": "log", "domain": [4.398, 1172], "nice": false},
   "axis": {"orient": "bottom", "values": [10, 100, 1000], "tickSize": -20, "tickWidth": 2.5, "tickColor": "black", "labels": false, "domain": true, "domainColor": "black", "domainWidth": 3, "grid": false, "title": null, "zindex": 1}},
  "y": {"datum": 0.12, "type": "quantitative", "scale": {"domain": [0.104, 0.134], "nice": false, "zero": false},
   "axis": {"orient": "left", "labels": false, "ticks": false, "domain": false, "grid": false, "title": "Z", "titleFontSize": 40, "titleFont": "Liberation Sans", "titleFontWeight": "normal", "titleColor": "black", "titleAngle": 270, "titleAlign": "right", "titleBaseline": "alphabetic", "titleX": -112, "titleY": 68}}}},
{"mark": {"type": "point", "opacity": 0},
 "encoding": {"x": {"datum": 10, "type": "quantitative", "scale": {"type": "log", "domain": [4.398, 1172], "nice": false},
   "axis": {"orient": "bottom", "values": [5,6,7,8,9,20,30,40,50,60,70,80,90,200,300,400,500,600,700,800,900], "tickSize": -10, "tickWidth": 2.5, "tickColor": "black", "labels": false, "domain": false, "grid": false, "title": null, "zindex": 1}},
  "y": {"datum": 0.12, "type": "quantitative", "scale": {"domain": [0.104, 0.134], "nice": false, "zero": false},
   "axis": {"orient": "left", "values": [0.11, 0.12, 0.13], "tickSize": -28, "tickWidth": 2.5, "tickColor": "black", "labels": false, "domain": true, "domainColor": "black", "domainWidth": 3, "grid": false, "title": null, "zindex": 1}}}},
{"mark": {"type": "point", "opacity": 0},
 "encoding": {"x": {"datum": 10, "type": "quantitative", "scale": {"type": "log", "domain": [4.398, 1172], "nice": false},
   "axis": {"orient": "top", "values": [10, 100, 1000], "tickSize": -20, "tickWidth": 2.5, "tickColor": "black", "labels": false, "domain": true, "domainColor": "black", "domainWidth": 3, "grid": false, "title": null, "zindex": 1}},
  "y": {"datum": 0.12, "type": "quantitative", "scale": {"domain": [0.104, 0.134], "nice": false, "zero": false},
   "axis": {"orient": "left", "values": [0.105, 0.115, 0.125], "tickSize": -17, "tickWidth": 2.5, "tickColor": "black", "labels": false, "domain": false, "grid": false, "title": null, "zindex": 1}}}},
{"mark": {"type": "point", "opacity": 0},
 "encoding": {"x": {"datum": 10, "type": "quantitative", "scale": {"type": "log", "domain": [4.398, 1172], "nice": false},
   "axis": {"orient": "top", "values": [5,6,7,8,9,20,30,40,50,60,70,80,90,200,300,400,500,600,700,800,900], "tickSize": -10, "tickWidth": 2.5, "tickColor": "black", "labels": false, "domain": false, "grid": false, "title": null, "zindex": 1}},
  "y": {"datum": 0.12, "type": "quantitative", "scale": {"domain": [0.104, 0.134], "nice": false, "zero": false},
   "axis": {"orient": "left", "values": [0.106,0.107,0.108,0.109,0.111,0.112,0.113,0.114,0.116,0.117,0.118,0.119,0.121,0.122,0.123,0.124,0.126,0.127,0.128,0.129,0.131,0.132,0.133], "tickSize": -8, "tickWidth": 2.5, "tickColor": "black", "labels": false, "domain": false, "grid": false, "title": null, "zindex": 1}}}},
{"mark": {"type": "point", "opacity": 0},
 "encoding": {"x": {"datum": 10, "type": "quantitative", "scale": {"type": "log", "domain": [4.398, 1172], "nice": false}, "axis": null},
  "y": {"datum": 0.12, "type": "quantitative", "scale": {"domain": [0.104, 0.134], "nice": false, "zero": false},
   "axis": {"orient": "right", "values": [0.11, 0.12, 0.13], "tickSize": -28, "tickWidth": 2.5, "tickColor": "black", "labels": false, "domain": true, "domainColor": "black", "domainWidth": 3, "grid": false, "title": null, "zindex": 1}}}},
{"mark": {"type": "point", "opacity": 0},
 "encoding": {"x": {"datum": 10, "type": "quantitative", "scale": {"type": "log", "domain": [4.398, 1172], "nice": false}, "axis": null},
  "y": {"datum": 0.12, "type": "quantitative", "scale": {"domain": [0.104, 0.134], "nice": false, "zero": false},
   "axis": {"orient": "right", "values": [0.105, 0.115, 0.125], "tickSize": -17, "tickWidth": 2.5, "tickColor": "black", "labels": false, "domain": false, "grid": false, "title": null, "zindex": 1}}}},
{"mark": {"type": "point", "opacity": 0},
 "encoding": {"x": {"datum": 10, "type": "quantitative", "scale": {"type": "log", "domain": [4.398, 1172], "nice": false}, "axis": null},
  "y": {"datum": 0.12, "type": "quantitative", "scale": {"domain": [0.104, 0.134], "nice": false, "zero": false},
   "axis": {"orient": "right", "values": [0.106,0.107,0.108,0.109,0.111,0.112,0.113,0.114,0.116,0.117,0.118,0.119,0.121,0.122,0.123,0.124,0.126,0.127,0.128,0.129,0.131,0.132,0.133], "tickSize": -8, "tickWidth": 2.5, "tickColor": "black", "labels": false, "domain": false, "grid": false, "title": null, "zindex": 1}}}}
]
}
]
}
